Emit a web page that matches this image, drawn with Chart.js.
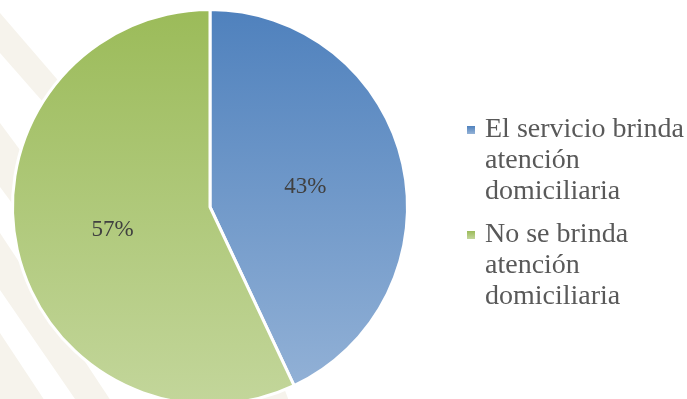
<!DOCTYPE html>
<html>
<head>
<meta charset="utf-8">
<script src="https://cdn.jsdelivr.net/npm/chart.js@4/dist/chart.umd.min.js"></script>
<style>
  html, body { margin: 0; padding: 0; background: #ffffff; overflow: hidden; }
  #wrap { position: relative; width: 687px; height: 420px; }
</style>
</head>
<body>
<div id="wrap"><canvas id="c"></canvas></div>
<script>
const categories = ["El servicio brinda atención domiciliaria", "No se brinda atención domiciliaria"];
const values = [43, 57];
const valueLabels = ["43%", "57%"];

const SERIF = '"Liberation Serif", "Times New Roman", serif';

function vGrad(ctx, y0, y1, c0, c1) {
  const g = ctx.createLinearGradient(0, y0, 0, y1);
  g.addColorStop(0, c0);
  g.addColorStop(1, c1);
  return g;
}
const gradStops = [["#4F81BD", "#95B3D7"], ["#9BBB59", "#C3D69B"]];

const bgStripes = {
  id: 'bgStripes',
  beforeDraw(chart) {
    const ctx = chart.ctx;
    ctx.save();
    ctx.fillStyle = '#F6F3EC';
    const polys = [
      [[0,13],[150,187],[150,224],[0,53]],
      [[0,123],[150,325],[150,389],[0,187]],
      [[0,233],[150,460],[150,508],[0,290]],
      [[0,333],[150,560],[0,560]],
      [[200,270],[240,270],[296,420],[248,420]]
    ];
    polys.forEach(p => {
      ctx.beginPath();
      ctx.moveTo(p[0][0], p[0][1]);
      for (let i = 1; i < p.length; i++) ctx.lineTo(p[i][0], p[i][1]);
      ctx.closePath();
      ctx.fill();
    });
    ctx.restore();
  }
};

const sliceLabels = {
  id: 'sliceLabels',
  afterDatasetsDraw(chart) {
    const ctx = chart.ctx;
    const meta = chart.getDatasetMeta(0);
    ctx.save();
    ctx.font = '23px ' + SERIF;
    ctx.fillStyle = '#404040';
    ctx.textAlign = 'center';
    ctx.textBaseline = 'middle';
    meta.data.forEach((arc, i) => {
      const p = arc.getCenterPoint();
      ctx.fillText(valueLabels[i], p.x - 1, p.y + 1);
    });
    ctx.restore();
  }
};

function wrapText(ctx, text, maxW) {
  const words = text.split(' ');
  const lines = [];
  let cur = '';
  words.forEach(w => {
    const t = cur ? cur + ' ' + w : w;
    if (ctx.measureText(t).width > maxW && cur) { lines.push(cur); cur = w; }
    else cur = t;
  });
  if (cur) lines.push(cur);
  return lines;
}

const sideLegend = {
  id: 'sideLegend',
  afterDraw(chart) {
    const ctx = chart.ctx;
    ctx.save();
    ctx.font = '28px ' + SERIF;
    ctx.textAlign = 'left';
    ctx.textBaseline = 'alphabetic';
    const textX = 485, markX = 467, lineH = 31, itemGap = 12;
    let y = 137;
    chart.data.labels.forEach((lab, i) => {
      const lines = wrapText(ctx, lab, 204);
      const my = y - 7;
      ctx.fillStyle = vGrad(ctx, my - 4, my + 4, gradStops[i][0], gradStops[i][1]);
      ctx.fillRect(markX, my - 4, 8, 8);
      ctx.fillStyle = '#595959';
      lines.forEach((ln, k) => ctx.fillText(ln, textX, y + k * lineH));
      y += lines.length * lineH + itemGap;
    });
    ctx.restore();
  }
};

const ctx = document.getElementById('c').getContext('2d');
new Chart(ctx, {
  type: 'pie',
  data: {
    labels: categories,
    datasets: [{
      data: values,
      backgroundColor: (c) => {
        const ca = c.chart.chartArea;
        if (!ca) return gradStops[c.dataIndex][0];
        return vGrad(c.chart.ctx, ca.top, ca.bottom, gradStops[c.dataIndex][0], gradStops[c.dataIndex][1]);
      },
      borderColor: '#ffffff',
      borderWidth: 3,
      hoverOffset: 0
    }]
  },
  options: {
    responsive: true,
    maintainAspectRatio: false,
    animation: false,
    layout: { padding: { left: 11, top: 8, right: 278, bottom: 14 } },
    plugins: {
      legend: { display: false },
      tooltip: { enabled: false }
    }
  },
  plugins: [bgStripes, sliceLabels, sideLegend]
});
</script>
</body>
</html>
